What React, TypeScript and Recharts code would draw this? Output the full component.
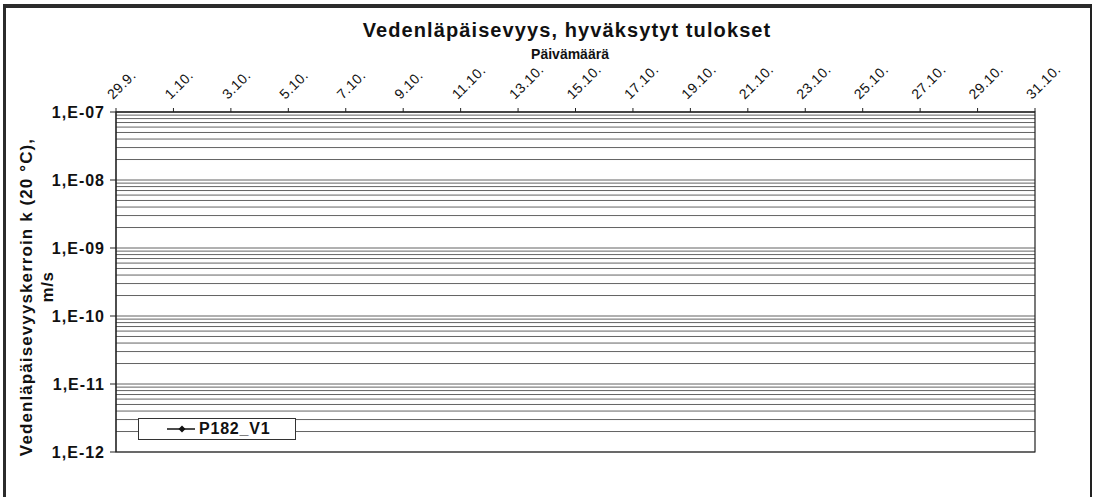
import React from 'react';
import { LineChart, Line, XAxis, YAxis, CartesianGrid, Legend, ReferenceArea } from 'recharts';

// päivät 29.9. alkaen (x = päiviä alusta)
const tickDays = [0, 2, 4, 6, 8, 10, 12, 14, 16, 18, 20, 22, 24, 26, 28, 30, 32];
const tickLabels = [
  '29.9.', '1.10.', '3.10.', '5.10.', '7.10.', '9.10.', '11.10.', '13.10.', '15.10.',
  '17.10.', '19.10.', '21.10.', '23.10.', '25.10.', '27.10.', '29.10.', '31.10.',
];
const yTicks = [1e-12, 1e-11, 1e-10, 1e-9, 1e-8, 1e-7];

// sarja P182_V1 - kuvassa ei näy yhtään pistettä alueella
const p182Days = [0, 2, 4, 6, 8, 10, 12, 14, 16, 18, 20, 22, 24, 26, 28, 30, 32];
const p182Values: (number | null)[] = [
  null, null, null, null, null, null, null, null, null,
  null, null, null, null, null, null, null, null,
];

const data = p182Days.map((d, i) => ({ day: d, P182_V1: p182Values[i] }));

// log-asteikon apuviivat 1..9 x 10^n
const gridValues: number[] = [];
for (let e = -12; e < -7; e++) {
  for (let k = 1; k <= 9; k++) gridValues.push(k * Math.pow(10, e));
}
gridValues.push(1e-7);

const FONT = "Arial, 'Liberation Sans', sans-serif";

const fmtY = (v: number) => {
  const e = Math.round(Math.log10(v));
  return `1,E-${String(-e).padStart(2, '0')}`;
};

const DateTick = ({ x, y, payload }: any) => {
  const idx = tickDays.indexOf(payload.value);
  const px = x - 3;
  const py = y - 6;
  return (
    <text
      x={px}
      y={py}
      transform={`rotate(-45 ${px} ${py})`}
      textAnchor="start"
      fontFamily={FONT}
      fontSize={14}
      letterSpacing={0.5}
      fill="#111"
    >
      {tickLabels[idx]}
    </text>
  );
};

const LegendBox = () => (
  <div
    style={{
      width: 156,
      height: 20,
      border: '1px solid #333',
      background: '#fff',
      display: 'flex',
      alignItems: 'center',
      fontFamily: FONT,
      fontWeight: 'bold',
      fontSize: 16,
      letterSpacing: 0.8,
      color: '#111',
    }}
  >
    <svg width={60} height={20}>
      <line x1={28} y1={10} x2={56} y2={10} stroke="#111" strokeWidth={1.5} />
      <polygon points="43,6.5 46.5,10 43,13.5 39.5,10" fill="#111" />
    </svg>
    <span>P182_V1</span>
  </div>
);

const rotated = (cx: number, cy: number, size: number, spacing: number, text: string) => (
  <div
    style={{
      position: 'absolute', left: cx - 200, top: cy - 12, width: 400, height: 24, lineHeight: '24px',
      transform: 'rotate(-90deg)', textAlign: 'center', whiteSpace: 'nowrap',
      fontFamily: FONT, fontWeight: 'bold', fontSize: size, letterSpacing: spacing, color: '#111',
    }}
  >
    {text}
  </div>
);

export default function App() {
  return (
    <div style={{ position: 'absolute', left: 0, top: 0, width: 1096, height: 497, background: '#fff', overflow: 'hidden' }}>
      {/* kehys */}
      <div style={{ position: 'absolute', left: 3, top: 4, width: 1089, height: 4, background: '#2b2b2b' }} />
      <div style={{ position: 'absolute', left: 3, top: 4, width: 3, height: 500, background: '#2b2b2b' }} />
      <div style={{ position: 'absolute', left: 1090, top: 4, width: 2, height: 500, background: '#222' }} />

      <div
        style={{
          position: 'absolute', left: 0, width: 1134, top: 19, textAlign: 'center', whiteSpace: 'nowrap',
          fontFamily: FONT, fontWeight: 'bold', fontSize: 20, letterSpacing: 1.1, color: '#111',
        }}
      >
        Vedenläpäisevyys, hyväksytyt tulokset
      </div>
      <div
        style={{
          position: 'absolute', left: 0, width: 1140, top: 46, textAlign: 'center',
          fontFamily: FONT, fontWeight: 'bold', fontSize: 14, color: '#111',
        }}
      >
        Päivämäärä
      </div>
      {rotated(27, 297, 17, 1.1, 'Vedenläpäisevyyskerroin k (20 °C),')}
      {rotated(48, 287, 17, 0.5, 'm/s')}

      <div style={{ position: 'absolute', left: 0, top: 0 }}>
        <LineChart
          width={1096}
          height={497}
          data={data}
          margin={{ top: 20, right: 61, bottom: 23, left: 10 }}
        >
          <CartesianGrid vertical={false} horizontalValues={gridValues} stroke="#636363" strokeWidth={1} />
          <XAxis
            dataKey="day"
            type="number"
            orientation="top"
            domain={[0, 32]}
            ticks={tickDays}
            height={92}
            tickSize={4}
            tickMargin={2}
            interval={0}
            stroke="#222"
            tick={<DateTick />}
          />
          <YAxis
            type="number"
            scale="log"
            domain={[1e-12, 1e-7]}
            ticks={yTicks}
            allowDataOverflow
            width={106}
            tickSize={6}
            tickMargin={5}
            interval={0}
            stroke="#222"
            tickFormatter={fmtY}
            tick={{ fontFamily: FONT, fontWeight: 'bold', fontSize: 16, letterSpacing: 1, fill: '#111' }}
          />
          <ReferenceArea x1={0} x2={32} y1={1e-12} y2={1e-7} fill="none" stroke="#222" strokeWidth={1.2} ifOverflow="visible" />
          <Line
            type="linear"
            dataKey="P182_V1"
            stroke="#111"
            strokeWidth={1.5}
            dot={false}
            connectNulls={false}
            isAnimationActive={false}
          />
          <Legend
            content={<LegendBox />}
            wrapperStyle={{ position: 'absolute', left: 138, top: 418, width: 158, height: 22 }}
          />
        </LineChart>
      </div>
    </div>
  );
}
